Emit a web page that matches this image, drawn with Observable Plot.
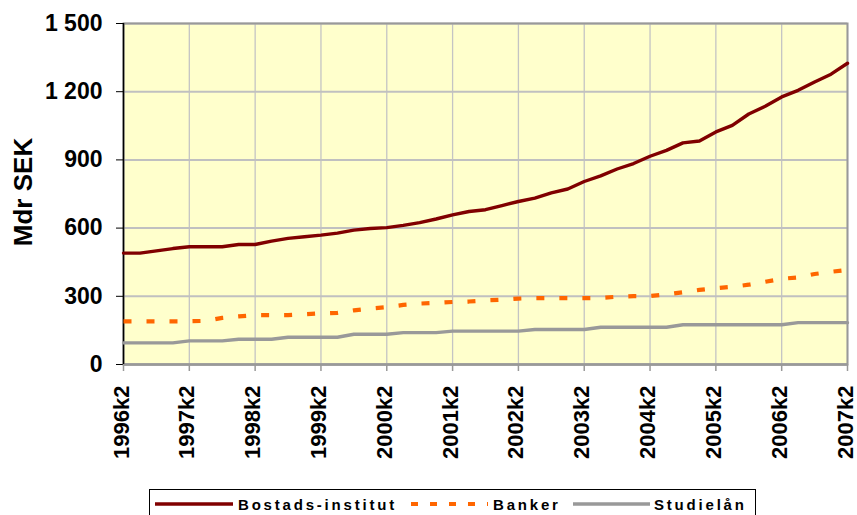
<!DOCTYPE html>
<html>
<head>
<meta charset="utf-8">
<script src="https://cdn.jsdelivr.net/npm/d3@7"></script>
<script src="https://cdn.jsdelivr.net/npm/@observablehq/plot@0.6"></script>
<style>
  html, body { margin: 0; padding: 0; background: #fff; }
  #wrap { position: relative; width: 857px; height: 515px; overflow: hidden; }
  #legend { position: absolute; left: 149px; top: 489px; }
</style>
</head>
<body>
<div id="wrap"></div>
<script>
const quarters = [
  "1996k2","1996k3","1996k4",
  "1997k1","1997k2","1997k3","1997k4",
  "1998k1","1998k2","1998k3","1998k4",
  "1999k1","1999k2","1999k3","1999k4",
  "2000k1","2000k2","2000k3","2000k4",
  "2001k1","2001k2","2001k3","2001k4",
  "2002k1","2002k2","2002k3","2002k4",
  "2003k1","2003k2","2003k3","2003k4",
  "2004k1","2004k2","2004k3","2004k4",
  "2005k1","2005k2","2005k3","2005k4",
  "2006k1","2006k2","2006k3","2006k4",
  "2007k1","2007k2"
];
const xTickLabels = ["1996k2","1997k2","1998k2","1999k2","2000k2","2001k2","2002k2","2003k2","2004k2","2005k2","2006k2","2007k2"];
const yTicks = [0, 300, 600, 900, 1200, 1500];

const seriesNames = ["Bostads-institut", "Banker", "Studielån"];

const bostads = [
  490, 490, 500, 510, 518, 518, 518, 528, 528, 543, 555, 562, 569, 578, 591,
  598, 602, 612, 624, 640, 658, 673, 681, 699, 717, 732, 755, 772, 805, 830,
  860, 884, 916, 942, 975, 983, 1023, 1052, 1102, 1136, 1177, 1206, 1243, 1277, 1325
];
const banker = [
  190, 190, 190, 190, 190, 192, 205, 212, 217, 217, 217, 221, 225, 227, 238,
  246, 252, 262, 268, 271, 275, 277, 282, 285, 290, 292, 292, 292, 292, 293,
  298, 301, 301, 308, 318, 328, 336, 342, 351, 364, 377, 383, 398, 408, 416
];
const studielan = [
  95, 95, 95, 95, 104, 104, 104, 111, 111, 111, 120, 120, 120, 120, 133,
  133, 133, 140, 140, 140, 147, 147, 147, 147, 147, 154, 154, 154, 154, 164,
  164, 164, 164, 164, 175, 175, 175, 175, 175, 175, 175, 184, 184, 184, 184
];

const colors = ["#800000", "#FF6600", "#999999"];
const dashes = [null, "8,15", null];

const rows = [];
[bostads, banker, studielan].forEach((vals, s) => {
  vals.forEach((v, i) => rows.push({series: seriesNames[s], i, v}));
});
const xTickIdx = xTickLabels.map(l => quarters.indexOf(l));

const fmt = d => d3.format(",")(d).replace(/,/g, " ");
const font = "'Liberation Sans', Arial, Helvetica, sans-serif";

const chart = Plot.plot({
  width: 857,
  height: 515,
  marginLeft: 123,
  marginRight: 10,
  marginTop: 23,
  marginBottom: 151,
  style: {fontFamily: font, fontWeight: "bold", color: "#000", background: "#fff", overflow: "visible"},
  x: {type: "linear", domain: [0, quarters.length - 1]},
  y: {domain: [0, 1500]},
  marks: [
    Plot.frame({fill: "#FFFFCC"}),
    Plot.gridX(xTickIdx, {stroke: "#c4c4c4", strokeOpacity: 1, strokeWidth: 1.3}),
    Plot.gridY(yTicks, {stroke: "#c0c0c0", strokeOpacity: 1, strokeWidth: 2}),
    Plot.frame({stroke: "#999999", strokeWidth: 2}),
    Plot.ruleY([0], {stroke: "#999999", strokeWidth: 2.5}),
    Plot.ruleX([0], {stroke: "#000", strokeWidth: 1.5}),
    Plot.axisY({ticks: yTicks, tickFormat: fmt, tickSize: 7, tickPadding: 14, fontSize: 23, stroke: "#000", fill: "#000", label: null}),
    Plot.axisX({ticks: xTickIdx, tickFormat: () => "", tickSize: 7, stroke: "#999999", strokeWidth: 1.5, label: null}),
    Plot.axisX({ticks: xTickIdx, tickFormat: i => quarters[i], tickSize: 0, tickPadding: 21, tickRotate: -90, dx: -2, fontSize: 22, fill: "#000", label: null}),
    Plot.text(["Mdr SEK"], {frameAnchor: "left", textAnchor: "middle", rotate: -90, dx: -100, dy: -2, fontSize: 26, fontWeight: "bold", fill: "#000"}),
    ...seriesNames.map((name, s) =>
      Plot.line(rows.filter(r => r.series === name), {
        x: "i", y: "v",
        stroke: colors[s],
        strokeWidth: s === 1 ? 4.2 : 3.4,
        strokeDasharray: dashes[s],
        strokeLinecap: s === 1 ? "butt" : "round",
        strokeLinejoin: "round"
      })
    )
  ]
});

const wrap = document.getElementById("wrap");
wrap.appendChild(chart);

// Legend (boxed, below the chart)
const leg = d3.create("svg")
  .attr("id", "legend")
  .attr("width", 608)
  .attr("height", 40)
  .style("font-family", font);
leg.append("rect")
  .attr("x", 0.5).attr("y", 0.5)
  .attr("width", 606).attr("height", 38)
  .attr("fill", "#fff").attr("stroke", "#000").attr("stroke-width", 1);
const items = [
  {x0: 6, x1: 84, tx: 89},
  {x0: 262, x1: 339, tx: 344},
  {x0: 424, x1: 501, tx: 505}
];
items.forEach((it, s) => {
  leg.append("line")
    .attr("x1", it.x0).attr("x2", it.x1)
    .attr("y1", 15).attr("y2", 15)
    .attr("stroke", colors[s])
    .attr("stroke-width", s === 1 ? 4 : 3.4)
    .attr("stroke-dasharray", s === 1 ? "7,12" : null);
  leg.append("text")
    .attr("x", it.tx).attr("y", 20.5)
    .attr("font-size", 15)
    .attr("font-weight", "bold")
    .attr("letter-spacing", "2.8px")
    .attr("fill", "#000")
    .text(seriesNames[s]);
});
wrap.appendChild(leg.node());
</script>
</body>
</html>
